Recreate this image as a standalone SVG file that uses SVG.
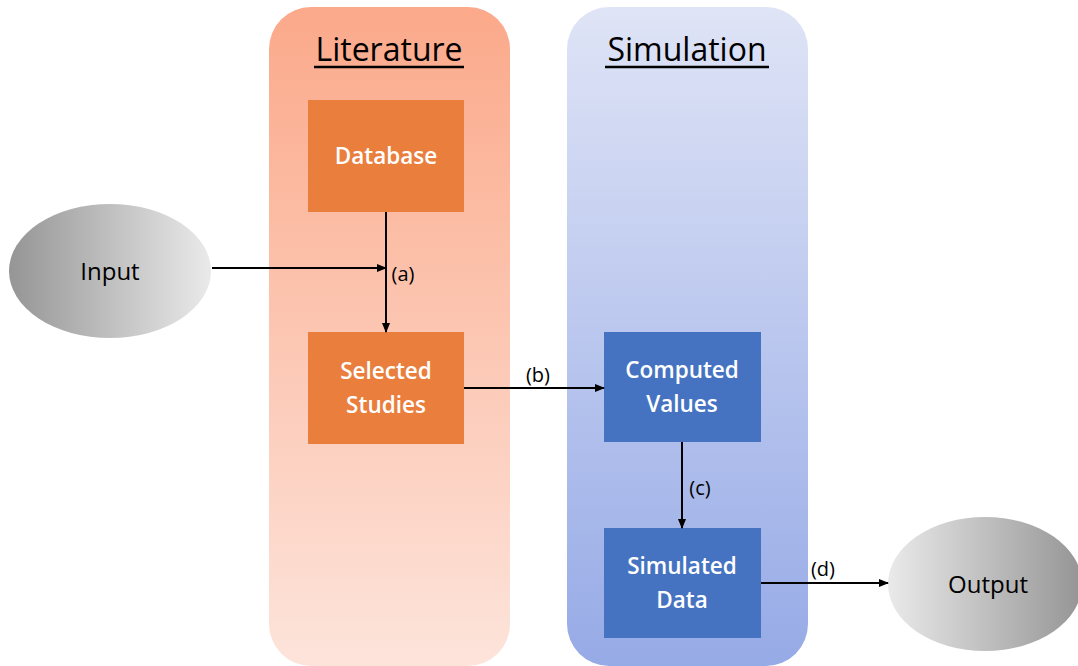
<svg xmlns="http://www.w3.org/2000/svg" width="1078" height="666" viewBox="0 0 1078 666">
<style>
.title{font-family:"Open Sans","Liberation Sans",sans-serif;font-size:32px;fill:#000;text-anchor:middle}
.box{font-family:"Open Sans","Liberation Sans",sans-serif;font-size:22.5px;font-weight:600;fill:#fff;text-anchor:middle}
.ell{font-family:"Open Sans","Liberation Sans",sans-serif;font-size:24px;fill:#000;text-anchor:middle}
.lbl{font-family:"Open Sans","Liberation Sans",sans-serif;font-size:20px;font-weight:500;fill:#000;text-anchor:middle}
.edge{stroke:#000;stroke-width:2;fill:none;marker-end:url(#ah)}
</style>
<defs>
<linearGradient id="litG" x1="0" y1="0" x2="0" y2="1">
<stop offset="0" stop-color="#FBA98A"/>
<stop offset="1" stop-color="#FDE4DB"/>
</linearGradient>
<linearGradient id="simG" x1="0" y1="0" x2="0" y2="1">
<stop offset="0" stop-color="#DFE4F6"/>
<stop offset="1" stop-color="#96AAE6"/>
</linearGradient>
<linearGradient id="inG" x1="0" y1="0" x2="1" y2="0">
<stop offset="0" stop-color="#959595"/>
<stop offset="1" stop-color="#EAEAEA"/>
</linearGradient>
<linearGradient id="outG" x1="0" y1="0" x2="1" y2="0">
<stop offset="0" stop-color="#EAEAEA"/>
<stop offset="1" stop-color="#959595"/>
</linearGradient>
<marker id="ah" markerWidth="10" markerHeight="10" refX="9" refY="5" orient="auto" markerUnits="userSpaceOnUse">
<path d="M0,1 L10,5 L0,9 Z" fill="#000"/>
</marker>
</defs>
<g id="panel-literature">
<rect x="269" y="7" width="241" height="659" rx="42" fill="url(#litG)"/>
<text class="title" x="389" y="61">Literature</text>
<line x1="314" y1="67" x2="464" y2="67" stroke="#000" stroke-width="2.5"/>
</g>
<g id="panel-simulation">
<rect x="567" y="7" width="241" height="659" rx="42" fill="url(#simG)"/>
<text class="title" x="687" y="61">Simulation</text>
<line x1="605" y1="67" x2="769" y2="67" stroke="#000" stroke-width="2.5"/>
</g>
<g id="node-input">
<ellipse cx="110" cy="271" rx="101" ry="67" fill="url(#inG)"/>
<text class="ell" x="110" y="280">Input</text>
</g>
<g id="node-database">
<rect x="308" y="100" width="156" height="112" fill="#EA7E3D"/>
<text class="box" x="386" y="164">Database</text>
</g>
<g id="node-selected">
<rect x="308" y="332" width="156" height="112" fill="#EA7E3D"/>
<text class="box" x="386" y="379">Selected</text>
<text class="box" x="386" y="413">Studies</text>
</g>
<g id="node-computed">
<rect x="604" y="332" width="157" height="110" fill="#4573C2"/>
<text class="box" x="682" y="378">Computed</text>
<text class="box" x="682" y="412">Values</text>
</g>
<g id="node-simulated">
<rect x="604" y="528" width="157" height="110" fill="#4573C2"/>
<text class="box" x="682" y="574">Simulated</text>
<text class="box" x="682" y="608">Data</text>
</g>
<g id="node-output">
<ellipse cx="985" cy="584" rx="97" ry="67" fill="url(#outG)"/>
<text class="ell" x="988" y="593">Output</text>
</g>
<g id="connectors">
<line class="edge" x1="212" y1="268" x2="386" y2="268"/>
<line class="edge" x1="386" y1="212" x2="386" y2="332"/>
<line class="edge" x1="464" y1="388" x2="604" y2="388"/>
<line class="edge" x1="682" y1="442" x2="682" y2="528"/>
<line class="edge" x1="761" y1="583" x2="888" y2="583"/>
<text class="lbl" x="403" y="281">(a)</text>
<text class="lbl" x="538" y="382">(b)</text>
<text class="lbl" x="700" y="495">(c)</text>
<text class="lbl" x="823" y="576">(d)</text>
</g>
</svg>
